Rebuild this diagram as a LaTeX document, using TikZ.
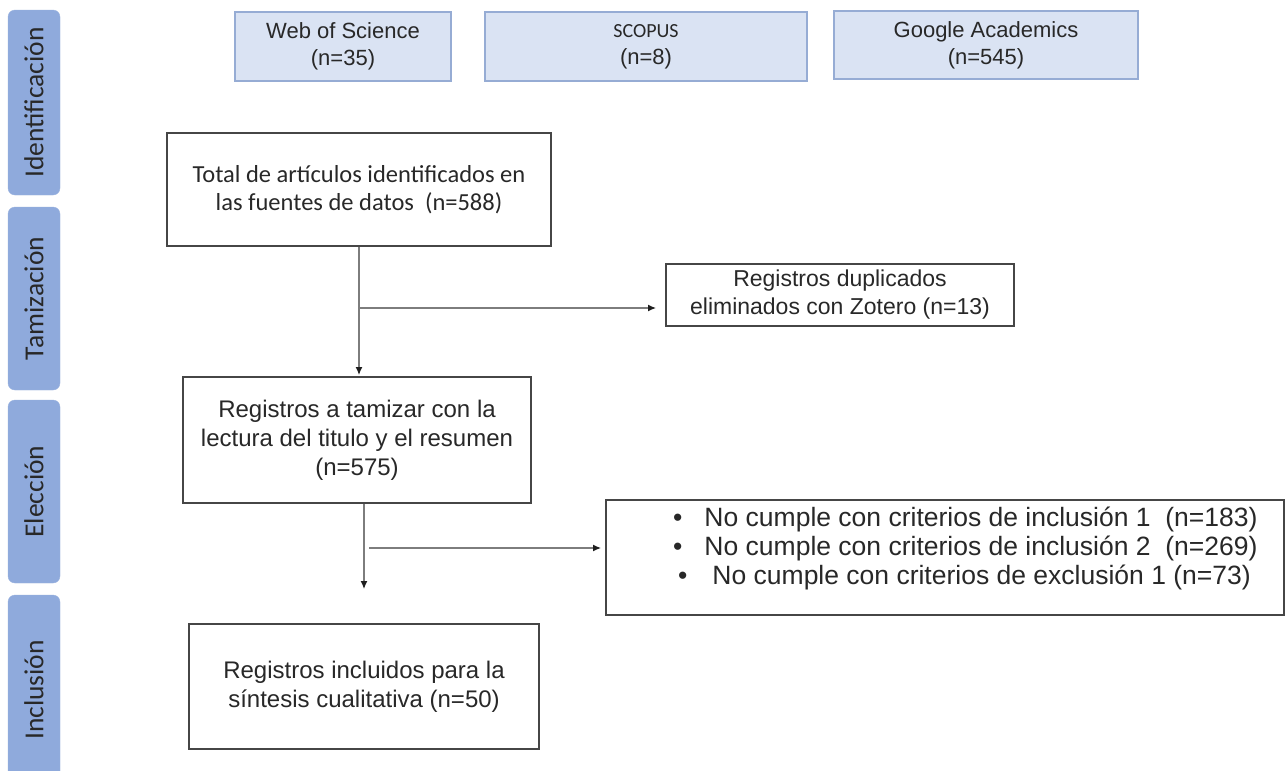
\documentclass[tikz,border=0pt]{standalone}
\usepackage{fontspec}
\setmainfont{Liberation Sans}
\newfontfamily\calib{Carlito}
\usetikzlibrary{arrows.meta}
\definecolor{phase}{RGB}{143,170,220}
\definecolor{srcfill}{RGB}{218,227,243}
\definecolor{srcdraw}{RGB}{150,172,212}
\definecolor{boxdraw}{RGB}{70,70,70}
\definecolor{txt}{RGB}{40,40,40}
\definecolor{conn}{RGB}{125,125,125}
\definecolor{tipc}{RGB}{30,30,30}
\tikzset{
  phasebox/.style={draw=phase!90!white, fill=phase, rounded corners=7pt, minimum height=52pt, inner sep=0pt, text=txt, font=\calib\fontsize{27.5}{30}\selectfont},
  srcbox/.style={draw=srcdraw, fill=srcfill, line width=1.4pt, inner sep=0pt, align=center, text=txt, font=\fontsize{22}{27}\selectfont},
  flowbox/.style={draw=boxdraw, line width=2pt, inner sep=0pt, align=center, text=txt, font=\fontsize{24}{29}\selectfont},
  conline/.style={draw=conn, line width=1.3pt},
  conarrow/.style={conline, -{Latex[length=8pt,width=7pt,color=tipc]}, shorten >=1pt}
}
\begin{document}
\begin{tikzpicture}[x=1pt,y=-1pt]
\useasboundingbox (0,0) rectangle (1285,771);
\fill[white] (0,0) rectangle (1285,771);
% phase labels
\node[phasebox, minimum width=185pt, rotate=90] (p1) at (34,102.5) {Identificación};
\node[phasebox, minimum width=183pt, rotate=90] (p2) at (34,298.5) {Tamización};
\node[phasebox, minimum width=183pt, rotate=90] (p3) at (34,491.5) {Elección};
\node[phasebox, minimum width=190pt, rotate=90] (p4) at (34,690) {Inclusión};
% sources
\node[srcbox, minimum width=216pt, minimum height=69pt] (wos) at (343,46.5) {Web of Science\\(n=35)};
\node[srcbox, minimum width=322pt, minimum height=69pt] (scopus) at (646,46.5) {{\calib\fontsize{20}{27}\selectfont SCOPUS}\\(n=8)};
\node[srcbox, minimum width=304pt, minimum height=68pt] (google) at (986,45) {Google Academics\\(n=545)};
% flow
\node[flowbox, minimum width=384pt, minimum height=113pt, font=\calib\fontsize{24.5}{28}\selectfont] (total) at (359,189.5) {Total de artículos identificados en\\las fuentes de datos\ \ (n=588)};
\node[flowbox, minimum width=348pt, minimum height=62pt, font=\fontsize{23}{28}\selectfont] (dup) at (840,295) {Registros duplicados\\eliminados con Zotero (n=13)};
\node[flowbox, minimum width=348pt, minimum height=126pt] (tam) at (357,440) {Registros a tamizar con la\\lectura del titulo y el resumen\\(n=575)};
\node[flowbox, minimum width=678pt, minimum height=115pt] (excl) at (945,557.5) {};
\node[anchor=west, align=left, inner sep=0pt, text=txt, font=\fontsize{26.5}{29}\selectfont] (excltxt) at (673,548) {\textbullet\hspace{22pt}No cumple con criterios de inclusión 1\ \ (n=183)\\\textbullet\hspace{22pt}No cumple con criterios de inclusión 2\ \ (n=269)\\\hspace{5pt}\textbullet\hspace{25pt}No cumple con criterios de exclusión 1 (n=73)};
\node[flowbox, minimum width=350pt, minimum height=125pt] (incl) at (364,686.5) {Registros incluidos para la\\síntesis cualitativa (n=50)};
% connectors
\coordinate (j1) at (359,308);
\coordinate (j2) at (364,548);
\coordinate (j2s) at (369,548);
\coordinate (e2) at (364,590);
\draw[conarrow] (total.south -| j1) -- (tam.north -| j1);
\draw[conarrow] (j1) -- ([xshift=-8pt]dup.west |- j1);
\draw[conarrow] (tam.south -| j2) -- (e2);
\draw[conarrow] (j2s) -- ([xshift=-3pt]excl.west |- j2);
\end{tikzpicture}
\end{document}
